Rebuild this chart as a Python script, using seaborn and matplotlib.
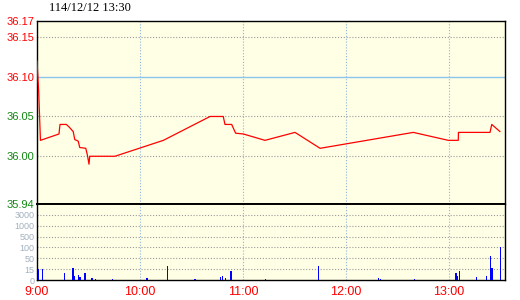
import numpy as np
import pandas as pd
import matplotlib
matplotlib.use("Agg")
import matplotlib.pyplot as plt
import seaborn as sns

# ---- data (minutes after 9:00) ----
price_min = [0, 1, 2, 12.8, 13.4, 17.1, 18.6, 21.1, 22, 24, 24.9, 28.4, 29.3, 30.3, 30.7,
             45.4, 73.6, 100.8, 108.5, 109.5, 113.4, 115.7, 120.2, 132.8, 150.3, 164.9,
             219.2, 239.6, 245.4, 245.5, 263.9, 264.9, 269.7]
price_val = [36.12, 36.08, 36.02, 36.028, 36.04, 36.04, 36.037, 36.031, 36.021, 36.019, 36.011,
             36.01, 36.002, 35.99, 36.00, 36.00, 36.02, 36.05, 36.05, 36.04, 36.04, 36.029,
             36.028, 36.02, 36.03, 36.01, 36.03, 36.02, 36.02, 36.03, 36.03, 36.04, 36.031]

vol_min = [1, 3, 16, 21, 22, 24, 25, 28, 32, 34, 44, 64, 76, 92, 107, 108, 110, 113, 133,
           164, 199, 200, 220, 244, 245, 246, 256, 262, 264, 265, 270]
vol_val = [15, 15, 10, 18, 6, 7, 4, 10, 3, 2, 2, 3, 25, 2, 4, 6, 3, 12, 2,
           25, 3, 1, 1, 10, 6, 13, 4, 6, 60, 18, 100]

price_ticks = [36.17, 36.15, 36.10, 36.05, 36.00, 35.94]
price_tick_labels = ["36.17", "36.15", "36.10", "36.05", "36.00", "35.94"]
ref_price = 36.10
vol_ticks = [0, 15, 50, 100, 500, 1000, 3000]
vol_tick_labels = ["0", "15", "50", "100", "500", "1000", "3000"]
time_ticks = [0, 60, 120, 180, 240]
time_labels = ["9:00", "10:00", "11:00", "12:00", "13:00"]
title = "114/12/12 13:30"

# ---- styling ----
sns.set_style("white")
plt.rcParams["font.family"] = ["Liberation Sans", "DejaVu Sans"]

W, H = 520, 300
fig = plt.figure(figsize=(W / 100, H / 100), dpi=100)
fig.patch.set_facecolor("white")

L, R = 37, 505
T1, B1 = 21, 204
B2 = 280
ax1 = fig.add_axes([L / W, 1 - B1 / H, (R - L) / W, (B1 - T1) / H])
ax2 = fig.add_axes([L / W, 1 - B2 / H, (R - L) / W, (B2 - B1) / H], sharex=ax1)

bg = "#FFFFE6"
grid_c = "#9A9A9A"
vgrid_c = "#8FB6D6"
dot = (0, (1, 1.6))
xmax = (R - L) / ((449 - 37) / 240)

for ax in (ax1, ax2):
    ax.set_facecolor(bg)
    for s in ax.spines.values():
        s.set_color("black")
        s.set_linewidth(1.0)
    for t in time_ticks[1:]:
        ax.axvline(t, color=vgrid_c, lw=0.8, ls=dot, zorder=1)
    ax.tick_params(length=0)

# ---- price panel ----
ax1.set_ylim(price_ticks[-1], price_ticks[0])
ax1.set_xlim(0, xmax)
for p in price_ticks[1:-1]:
    if p == ref_price:
        ax1.axhline(p, color="#8CC4EC", lw=1.0, zorder=1)
    else:
        ax1.axhline(p, color=grid_c, lw=0.8, ls=dot, zorder=1)
df = pd.DataFrame({"m": price_min, "p": price_val})
sns.lineplot(data=df, x="m", y="p", ax=ax1, color="#FF0000", lw=0.9, sort=False,
             estimator=None, zorder=3)
ax1.set_xlabel("")
ax1.set_ylabel("")
ax1.set_yticks(price_ticks)
ax1.set_yticklabels(price_tick_labels, fontsize=8)
for lab, v in zip(ax1.get_yticklabels(), price_ticks):
    lab.set_color("#FF0000" if v >= ref_price else "#118811")
ax1.tick_params(axis="y", pad=2)
ax1.tick_params(axis="x", labelbottom=False)

# ---- volume panel (stepped scale) ----
scale_vals = np.array(vol_ticks + [6000], dtype=float)
scale_idx = np.arange(len(scale_vals), dtype=float)


def fwd(v):
    return np.interp(v, scale_vals, scale_idx)


def inv(t):
    return np.interp(t, scale_idx, scale_vals)


ax2.set_yscale("function", functions=(fwd, inv))
ax2.set_ylim(0, 6000)
for v in vol_ticks[1:]:
    ax2.axhline(v, color=grid_c, lw=0.8, ls=dot, zorder=1)
ax2.bar(vol_min, vol_val, width=0.75, color="#0000FF", zorder=3, linewidth=0)
ax2.set_yticks(vol_ticks)
ax2.set_yticklabels(vol_tick_labels, fontsize=6.5, color="#A3B1BF")
ax2.yaxis.set_minor_locator(matplotlib.ticker.NullLocator())
ax2.tick_params(axis="y", pad=2)
ax2.set_xticks(time_ticks)
ax2.set_xticklabels(time_labels, fontsize=9, color="#FF0000")
ax2.tick_params(axis="x", pad=4)
ax2.set_xlim(0, xmax)
ax2.spines["top"].set_linewidth(1.4)
ax1.spines["bottom"].set_linewidth(1.4)

fig.text(49 / W, 1 - 8 / H, title, fontsize=9, family=["Liberation Serif", "DejaVu Serif"],
         va="center", ha="left", color="black")

fig.savefig("out.png", dpi=100, facecolor="white")
